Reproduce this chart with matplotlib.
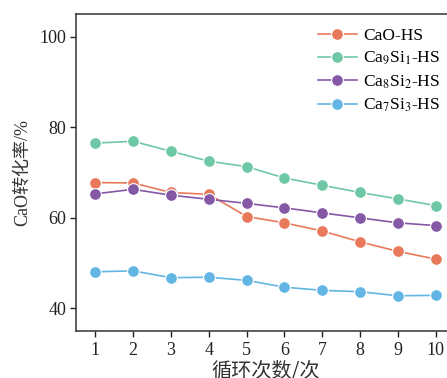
import matplotlib
matplotlib.use('Agg')
import matplotlib.pyplot as plt

plt.rcParams['font.family'] = ['Liberation Serif', 'Noto Sans CJK SC']
plt.rcParams['mathtext.fontset'] = 'stix'

# data
cycles = [1, 2, 3, 4, 5, 6, 7, 8, 9, 10]
cao_hs = [67.8, 67.7, 65.6, 65.2, 60.3, 58.9, 57.1, 54.7, 52.6, 50.9]
ca9si1 = [76.5, 76.9, 74.7, 72.5, 71.3, 68.8, 67.2, 65.6, 64.2, 62.7]
ca8si2 = [65.3, 66.3, 65.0, 64.1, 63.2, 62.2, 61.1, 60.0, 58.9, 58.3]
ca7si3 = [48.1, 48.3, 46.8, 46.9, 46.2, 44.7, 44.0, 43.7, 42.8, 42.9]

labels = ['CaO-HS', r'Ca$_9$Si$_1$-HS', r'Ca$_8$Si$_2$-HS', r'Ca$_7$Si$_3$-HS']
colors = ['#E8795A', '#6FC8A5', '#8558A6', '#63B6E3']

fig = plt.figure(figsize=(4.47, 3.78), dpi=100)
ax = fig.add_axes([0.171, 0.124, 0.846, 0.839])

for ys, lab, c in zip([cao_hs, ca9si1, ca8si2, ca7si3], labels, colors):
    ax.plot(cycles, ys, '-o', color=c, lw=1.2, ms=8.5, mec='white', mew=0.8, label=lab)

ax.set_xlim(0.5, 10.5)
ax.set_ylim(35, 105)
ax.set_xticks(cycles)
ax.set_yticks([40, 60, 80, 100])
ax.tick_params(direction='out', length=4, width=1, labelsize=13, colors='#222222')
ax.tick_params(axis='x', pad=4)
for s in ['left', 'bottom', 'top', 'right']:
    ax.spines[s].set_linewidth(1.1)
    ax.spines[s].set_color('#333333')

ax.set_xlabel('循环次数/次', fontsize=14.5, labelpad=1, color='#333333',
              family=['Noto Sans CJK SC', 'Liberation Serif'])
ax.set_ylabel('CaO转化率/%', fontsize=13, labelpad=6, color='#333333')

leg = ax.legend(loc='upper right', bbox_to_anchor=(0.995, 0.995), frameon=False,
                fontsize=12.5, handlelength=2.2, handletextpad=0.4,
                labelspacing=0.36, borderaxespad=0.3)

fig.savefig('out.png', dpi=100)
